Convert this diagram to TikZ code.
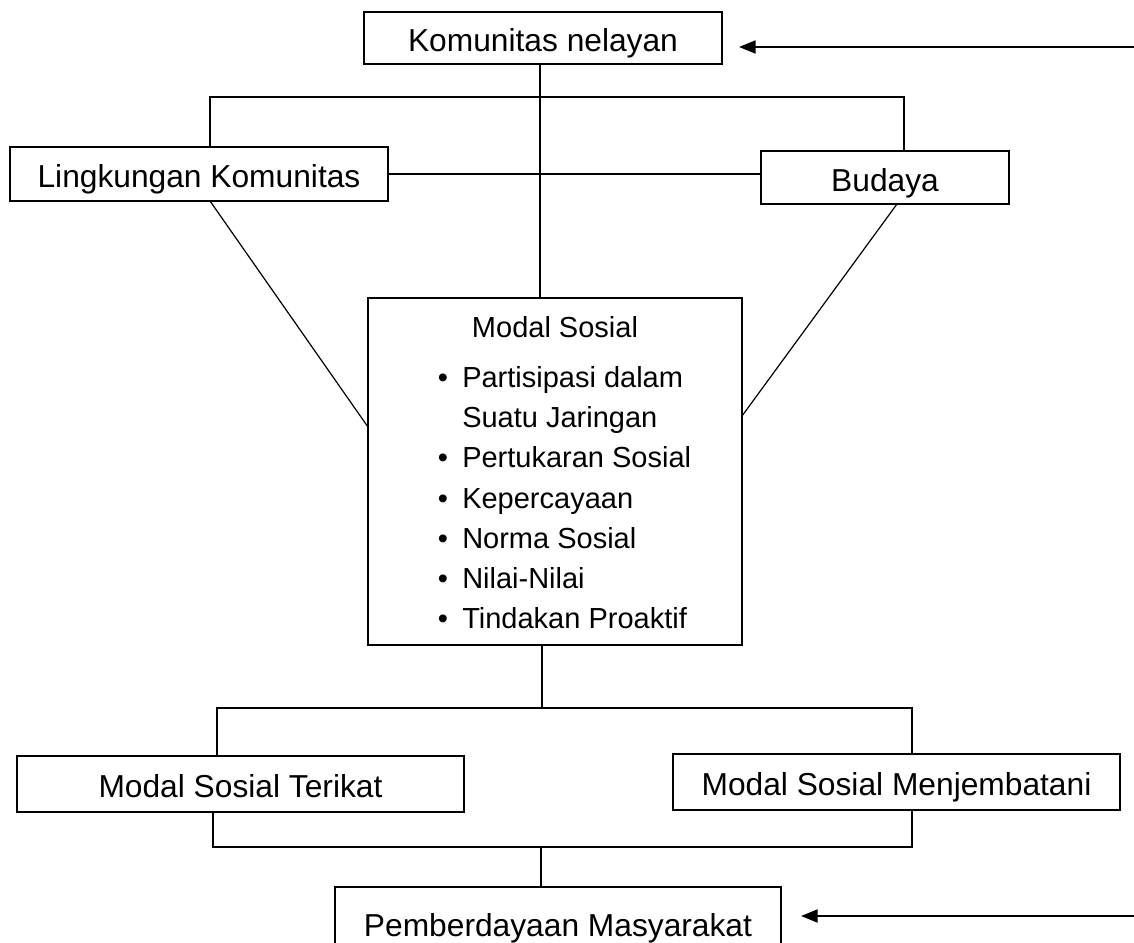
\documentclass[tikz,border=0pt]{standalone}
\usepackage{fontspec}
\setmainfont{Liberation Sans}
\usetikzlibrary{arrows.meta}
\begin{document}
\begin{tikzpicture}[x=0.75pt,y=-0.75pt,
  box/.style={draw, line width=1.5pt, inner sep=0pt, outer sep=0pt,
    font=\fontsize{23.8}{28}\selectfont, text height=22.6pt, text depth=2.1pt},
  link/.style={line width=0.9pt},
  feed/.style={line width=1.6pt, -{Triangle[length=12.5pt,width=9.75pt]}},
  item/.style={anchor=base west, inner sep=0pt, font=\fontsize{21.75}{26}\selectfont},
  dot/.style={anchor=base, inner sep=0pt, font=\fontsize{21.75}{26}\selectfont}]
\useasboundingbox (0,0) rectangle (1134,942);
\begin{scope}
\clip (0,0) rectangle (1134,942);
% boxes
\node[box, minimum width=268.5pt, minimum height=39pt] (kom) at (543,38) {Komunitas nelayan};
\node[box, minimum width=283.5pt, minimum height=40.5pt] (ling) at (199,174) {Lingkungan Komunitas};
\node[box, minimum width=186pt, minimum height=39.75pt] (bud) at (885,177.5) {Budaya};
\node[box, minimum width=280.5pt, minimum height=260.25pt] (modal) at (555,471.5) {};
\node[box, minimum width=335.25pt, minimum height=42pt] (terikat) at (240.5,784) {Modal Sosial Terikat};
\node[box, minimum width=335.25pt, minimum height=42pt] (menj) at (896.5,782) {Modal Sosial Menjembatani};
\node[box, minimum width=334.5pt, minimum height=54pt] (pemb) at (558,923) {Pemberdayaan Masyarakat};
\end{scope}
% content of Modal Sosial
\node[dot] (mtitle) at (555,337) {Modal Sosial};
\node[dot] (b1) at (443,387) {•};
\node[item] (i1) at (462,387) {Partisipasi dalam};
\node[item] (i1b) at (462,427) {Suatu Jaringan};
\node[dot] (b2) at (443,467) {•};
\node[item] (i2) at (462,467) {Pertukaran Sosial};
\node[dot] (b3) at (443,508) {•};
\node[item] (i3) at (462,508) {Kepercayaan};
\node[dot] (b4) at (443,548) {•};
\node[item] (i4) at (462,548) {Norma Sosial};
\node[dot] (b5) at (443,588) {•};
\node[item] (i5) at (462,588) {Nilai-Nilai};
\node[dot] (b6) at (443,628) {•};
\node[item] (i6) at (462,628) {Tindakan Proaktif};
% helper coordinates
\coordinate (t1) at (540,0);
\coordinate (hl) at (210,97);
\coordinate (hr) at (904,97);
\coordinate (dl) at (0,427);
\coordinate (dr) at (897,416);
\coordinate (t2) at (542,708);
\coordinate (ml) at (217,708);
\coordinate (mr) at (912,708);
\coordinate (ll) at (213,847);
\coordinate (lr) at (912,847);
\coordinate (t3) at (541,847);
\coordinate (a1) at (1134,47);
\coordinate (a2) at (1134,916);
% connectors top
\draw[link] (t1 |- kom.south) -- (t1 |- modal.north);
\draw[link] (hl |- ling.north) -- (hl) -- (hr) -- (hr |- bud.north);
\draw[link] (ling.east) -- (ling.east -| bud.west);
\draw[link] (hl |- ling.south) -- (modal.west |- dl);
\draw[link] (dr |- bud.south) -- (modal.east |- dr);
% connectors bottom
\draw[link] (t2 |- modal.south) -- (t2);
\draw[link] (ml |- terikat.north) -- (ml) -- (mr) -- (mr |- menj.north);
\draw[link] (ll |- terikat.south) -- (ll) -- (lr) -- (lr |- menj.south);
\draw[link] (t3) -- (t3 |- pemb.north);
% arrows
\draw[feed, shorten >=12.75pt] (a1) -- (a1 -| kom.east);
\draw[feed, shorten >=15pt] (a2) -- (a2 -| pemb.east);
\end{tikzpicture}
\end{document}
